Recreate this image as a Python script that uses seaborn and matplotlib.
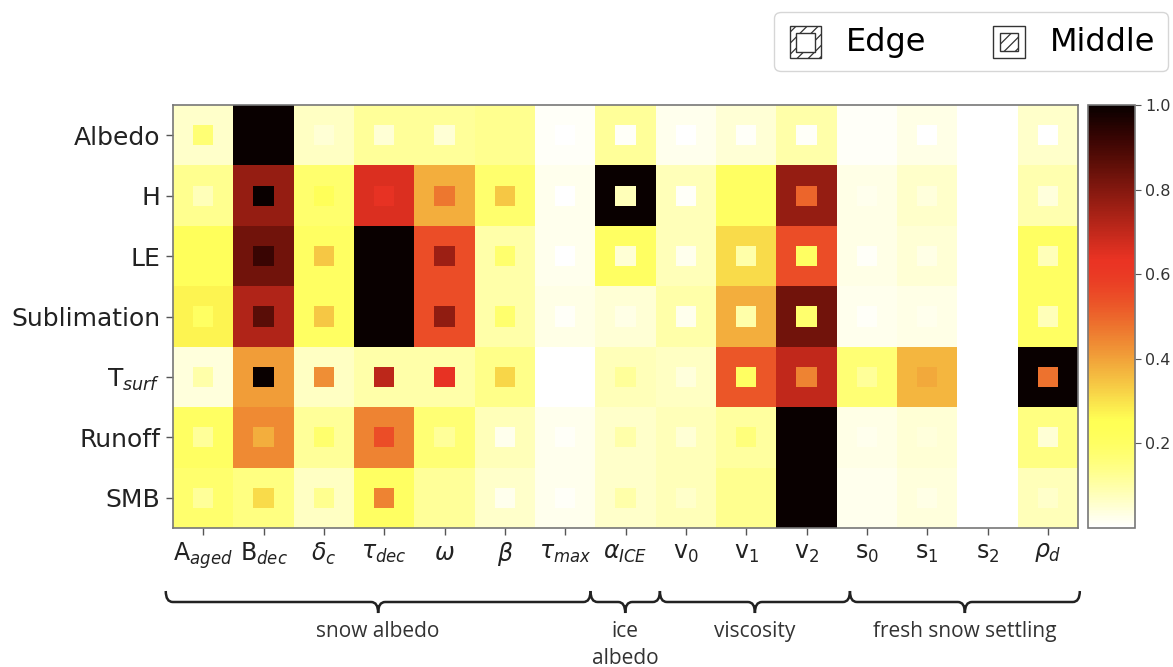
import numpy as np
import pandas as pd
import matplotlib
matplotlib.use("Agg")
import matplotlib.pyplot as plt
import seaborn as sns
from matplotlib.patches import Rectangle, Patch, PathPatch
from matplotlib.path import Path
from matplotlib.legend_handler import HandlerBase
from matplotlib.transforms import blended_transform_factory
from matplotlib.colors import ListedColormap

# ---------------- data ----------------
rows = ["Albedo", "H", "LE", "Sublimation", r"T$_{surf}$", "Runoff", "SMB"]
params = [r"A$_{aged}$", r"B$_{dec}$", r"$\delta_c$", r"$\tau_{dec}$", r"$\omega$",
          r"$\beta$", r"$\tau_{max}$", r"$\alpha_{ICE}$", r"v$_0$", r"v$_1$",
          r"v$_2$", r"s$_0$", r"s$_1$", r"s$_2$", r"$\rho_d$"]

# edge (outer) sensitivity values, one list per row
edge_albedo = [0.06, 1.00, 0.07, 0.12, 0.12, 0.13, 0.01, 0.12, 0.02, 0.05, 0.10, 0.01, 0.03, 0.00, 0.06]
edge_h      = [0.13, 0.77, 0.18, 0.66, 0.38, 0.18, 0.02, 1.00, 0.08, 0.20, 0.77, 0.03, 0.06, 0.00, 0.09]
edge_le     = [0.22, 0.83, 0.20, 1.00, 0.55, 0.10, 0.02, 0.20, 0.08, 0.31, 0.55, 0.03, 0.05, 0.00, 0.20]
edge_subl   = [0.27, 0.73, 0.20, 1.00, 0.55, 0.10, 0.03, 0.05, 0.10, 0.38, 0.83, 0.02, 0.03, 0.00, 0.20]
edge_tsurf  = [0.04, 0.41, 0.07, 0.10, 0.10, 0.14, 0.00, 0.08, 0.07, 0.53, 0.70, 0.17, 0.37, 0.00, 1.00]
edge_runoff = [0.20, 0.44, 0.12, 0.45, 0.17, 0.08, 0.02, 0.06, 0.08, 0.11, 1.00, 0.03, 0.05, 0.00, 0.15]
edge_smb    = [0.18, 0.15, 0.07, 0.20, 0.12, 0.06, 0.02, 0.06, 0.08, 0.13, 1.00, 0.02, 0.04, 0.00, 0.08]

# middle (inner) sensitivity values, one list per row
mid_albedo = [0.17, 1.00, 0.05, 0.05, 0.05, 0.13, 0.00, 0.01, 0.00, 0.01, 0.01, 0.01, 0.00, 0.00, 0.00]
mid_h      = [0.08, 1.00, 0.23, 0.64, 0.47, 0.34, 0.00, 0.08, 0.01, 0.20, 0.50, 0.02, 0.04, 0.00, 0.04]
mid_le     = [0.22, 0.92, 0.34, 1.00, 0.76, 0.18, 0.00, 0.05, 0.02, 0.10, 0.20, 0.01, 0.03, 0.00, 0.08]
mid_subl   = [0.20, 0.87, 0.34, 1.00, 0.78, 0.18, 0.01, 0.03, 0.02, 0.10, 0.18, 0.01, 0.02, 0.00, 0.08]
mid_tsurf  = [0.10, 1.00, 0.43, 0.71, 0.64, 0.32, 0.00, 0.12, 0.04, 0.20, 0.45, 0.12, 0.39, 0.00, 0.48]
mid_runoff = [0.12, 0.38, 0.18, 0.55, 0.12, 0.02, 0.01, 0.10, 0.05, 0.16, 1.00, 0.02, 0.04, 0.00, 0.05]
mid_smb    = [0.12, 0.31, 0.13, 0.45, 0.12, 0.02, 0.01, 0.10, 0.06, 0.13, 1.00, 0.02, 0.03, 0.00, 0.06]

groups = ["snow albedo", "ice\nalbedo", "viscosity", "fresh snow settling"]
cbar_ticks = [0.2, 0.4, 0.6, 0.8, 1.0]

# ---------------- build tables ----------------
edge = pd.DataFrame([edge_albedo, edge_h, edge_le, edge_subl, edge_tsurf, edge_runoff, edge_smb],
                    index=rows, columns=params)
mid = pd.DataFrame([mid_albedo, mid_h, mid_le, mid_subl, mid_tsurf, mid_runoff, mid_smb],
                   index=rows, columns=params)

# each cell becomes a 3x3 block: edge value around, middle value at the centre
K = 3
big = np.kron(edge.values, np.ones((K, K)))
big[1::K, 1::K] = mid.values

# hot_r as it appears in the reference (slightly softened colours)
base = plt.get_cmap("hot_r")(np.linspace(0, 1, 256))[:, :3]
lin = np.where(base <= 0.04045, base / 12.92, ((base + 0.055) / 1.055) ** 2.4)
M = np.array([[0.8225, 0.1774, 0.0000],
              [0.0332, 0.9669, 0.0000],
              [0.0171, 0.0724, 0.9108]])
lin2 = np.clip(lin @ M.T, 0, 1)
enc = np.where(lin2 <= 0.0031308, lin2 * 12.92, 1.055 * lin2 ** (1 / 2.4) - 0.055)
cmap = ListedColormap(np.clip(enc, 0, 1))

# ---------------- figure ----------------
W, H = 1173, 667
fig = plt.figure(figsize=(W / 100, H / 100), dpi=100)
plt.rcParams["font.family"] = ["DejaVu Sans"]
plt.rcParams["hatch.linewidth"] = 0.9

ax = fig.add_axes([173 / W, 1 - 528 / H, 905 / W, 423 / H])
cax = fig.add_axes([1088 / W, 1 - 528 / H, 47 / W, 423 / H])

sns.heatmap(big, ax=ax, cbar_ax=cax, cmap=cmap, vmin=0, vmax=1,
            xticklabels=False, yticklabels=False)

ax.set_xticks(np.arange(len(params)) * K + K / 2)
ax.set_xticklabels(params, fontsize=17, color="#222222", rotation=0)
ax.set_yticks(np.arange(len(rows)) * K + K / 2)
ax.set_yticklabels(rows, fontsize=18, color="#222222", rotation=0)
ax.tick_params(axis="both", length=5, width=1, color="#555555", pad=4)
for s in ax.spines.values():
    s.set_visible(True)
    s.set_color("#777777")
    s.set_linewidth(1.2)

cb = ax.collections[0].colorbar
cb.set_ticks(cbar_ticks)
cb.ax.tick_params(labelsize=11.5, length=4, color="#555555", labelcolor="#333333")
cb.outline.set_visible(True)
cb.outline.set_linewidth(1.2)
cb.outline.set_edgecolor("#777777")

# ---------------- braces and group labels ----------------
tr = blended_transform_factory(ax.transData, fig.transFigure)
y_top = 1 - 591 / H
y_mid = 1 - 602 / H
y_tip = 1 - 613 / H
# brace ends, in column units (hand-placed in the reference)
brace_edges = [-0.12, 6.92, 8.07, 11.22, 15.03]


def brace(x0, x1):
    xm = (x0 + x1) / 2
    r = 0.35
    verts = [(x0, y_top), (x0, y_mid), (x0 + r, y_mid),
             (xm - r, y_mid), (xm, y_mid), (xm, y_tip),
             (xm, y_mid), (xm + r, y_mid),
             (x1 - r, y_mid), (x1, y_mid), (x1, y_top)]
    codes = [Path.MOVETO, Path.CURVE3, Path.CURVE3,
             Path.LINETO, Path.CURVE3, Path.CURVE3,
             Path.CURVE3, Path.CURVE3,
             Path.LINETO, Path.CURVE3, Path.CURVE3]
    p = PathPatch(Path(verts, codes), transform=tr, facecolor="none",
                  edgecolor="#222222", lw=1.8, clip_on=False)
    fig.add_artist(p)


for i, g in enumerate(groups):
    x0 = brace_edges[i] * K
    x1 = brace_edges[i + 1] * K
    brace(x0, x1)
    t = fig.text(0, 1 - 621 / H, g, transform=tr, ha="center", va="top",
                 fontsize=15, color="#333333", family=["Open Sans", "DejaVu Sans"],
                 linespacing=1.35)
    t.set_x((x0 + x1) / 2)

# ---------------- legend ----------------
class SquareHandler(HandlerBase):
    def __init__(self, inner_hatched, frac):
        super().__init__()
        self.inner_hatched = inner_hatched
        self.frac = frac

    def create_artists(self, legend, orig_handle, xdescent, ydescent,
                       width, height, fontsize, trans):
        s = min(width, height)
        x0 = -xdescent + (width - s) / 2
        y0 = -ydescent + (height - s) / 2 - 0.05 * s
        outer = Rectangle((x0, y0), s, s, facecolor="white", edgecolor="#333333",
                          hatch=None if self.inner_hatched else "///", lw=1.0,
                          transform=trans)
        f = self.frac
        inner = Rectangle((x0 + s * (1 - f) / 2, y0 + s * (1 - f) / 2), s * f, s * f,
                          facecolor="white", edgecolor="#333333",
                          hatch="///" if self.inner_hatched else None, lw=1.0,
                          transform=trans)
        return [outer, inner]


h_edge = Patch(label="Edge")
h_mid = Patch(label="Middle")
fig.legend(handles=[h_edge, h_mid], labels=["Edge", "Middle"],
           handler_map={h_edge: SquareHandler(False, 0.6), h_mid: SquareHandler(True, 0.56)},
           loc="upper right", bbox_to_anchor=(1168 / W, 1 - 12 / H), borderaxespad=0,
           ncol=2, fontsize=23, handlelength=1.15, handleheight=1.15,
           handletextpad=0.7, columnspacing=2.0, frameon=True, borderpad=0.4)

fig.savefig("out.png", dpi=100)
